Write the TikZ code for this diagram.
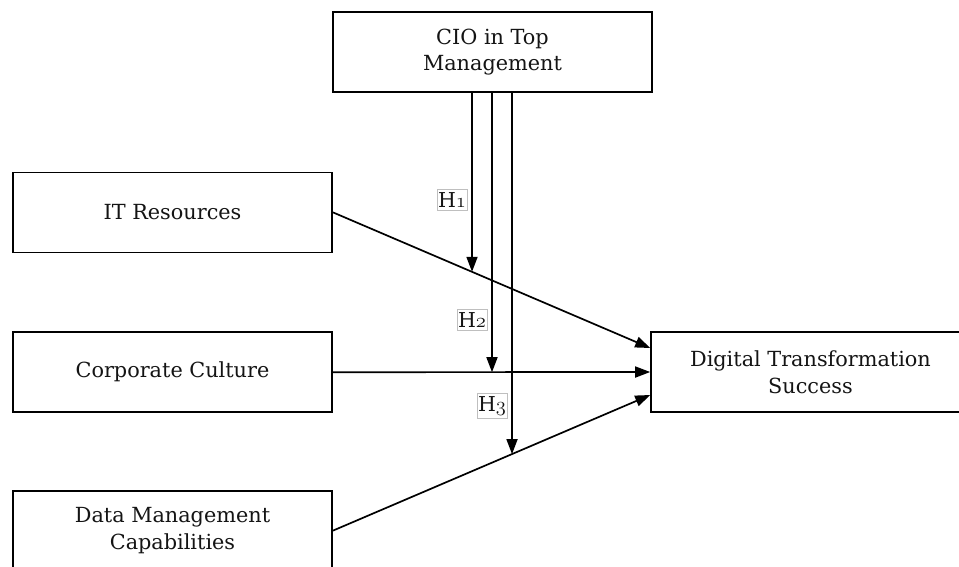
\RequirePackage{fix-cm}
\documentclass[tikz,border=0pt]{standalone}
\usepackage{fontspec}
\setmainfont{DejaVu Serif}
\usetikzlibrary{arrows.meta}
\newcommand{\osnum}[1]{{\usefont{OML}{cmm}{m}{it}#1}}
\begin{document}
\begin{tikzpicture}[x=1pt,y=-1pt,
  box/.style={draw=black, line width=1.6pt, minimum width=319pt, minimum height=80pt,
    inner sep=0pt, align=center, font=\fontsize{20.8}{26.5}\selectfont, text=black!92},
  arr/.style={line width=1.7pt, -{Triangle[length=15pt,width=11pt]}},
  hlab/.style={draw=black!25, line width=0.7pt, inner xsep=1pt, inner ysep=3pt, fill=white,
    font=\fontsize{20.5}{22}\selectfont, text=black!92}]
\useasboundingbox (0,0) rectangle (959,566);
\node[box] (cio) at (492.5,52) {CIO in Top\\Management};
\node[box] (it) at (172.5,212.3) {IT Resources};
\node[box] (cc) at (172.5,372.2) {Corporate Culture};
\node[box] (dm) at (172.5,530.7) {Data Management\\Capabilities};
\node[box] (dt) at (810.5,372) {Digital Transformation\\Success};
\coordinate (dta) at ([yshift=24pt]dt.west);
\coordinate (dtc) at ([yshift=-23pt]dt.west);
\draw[arr] (it.east) -- (dta);
\draw[arr] (cc.east) -- (dt.west);
\draw[arr] (dm.east) -- (dtc);
\coordinate (x1) at (472,0);
\coordinate (x1b) at (472,600);
\coordinate (x2) at (492,0);
\coordinate (x3) at (512,0);
\coordinate (x3b) at (512,600);
\coordinate (e1) at (intersection of it.east--dta and x1--x1b);
\coordinate (e3) at (intersection of dm.east--dtc and x3--x3b);
\draw[arr] (cio.south -| x1) -- (e1);
\draw[arr] (cio.south -| x2) -- (cc.east -| x2);
\draw[arr] (cio.south -| x3) -- (e3);
\node[hlab] (h1) at (452,200) {H\osnum{1}};
\node[hlab] (h2) at (472,320) {H\osnum{2}};
\node[hlab] (h3) at (492,406) {H\osnum{3}};
\end{tikzpicture}
\end{document}
